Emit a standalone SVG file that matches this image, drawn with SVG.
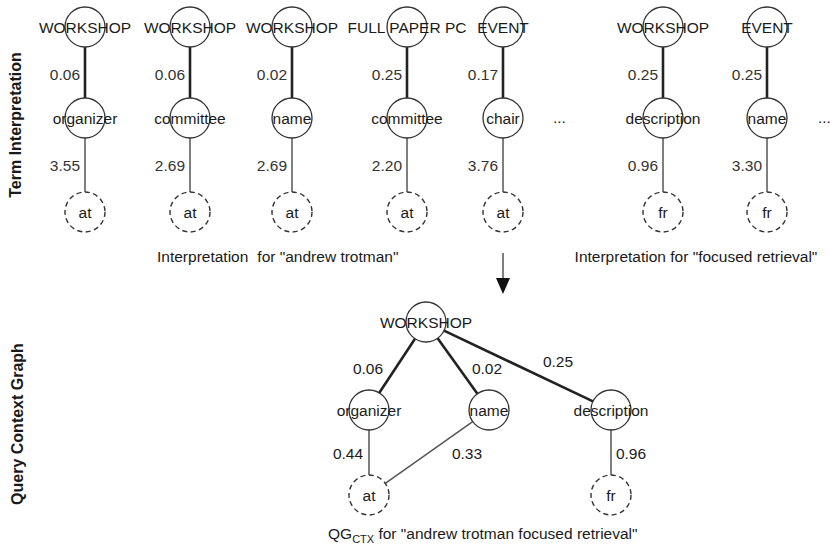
<svg xmlns="http://www.w3.org/2000/svg" width="830" height="545" viewBox="0 0 830 545">
<style>
text{font-family:"Liberation Sans",Arial,sans-serif;font-size:15.5px;fill:#1a1a1a}
.lbl{text-anchor:middle}
.num{text-anchor:end;fill:#333}
.side{font-weight:bold;font-size:16px;text-anchor:middle}
.c{fill:none;stroke:#333;stroke-width:1.3}
.d{fill:none;stroke:#333;stroke-width:1.4;stroke-dasharray:5 3.5}
.thick{stroke:#222;stroke-width:2.6;fill:none}
.thin{stroke:#555;stroke-width:1.5;fill:none}
</style>
<rect width="830" height="545" fill="#fff"/>
<text class="side" transform="translate(21,125) rotate(-90)">Term Interpretation</text>
<text class="side" transform="translate(23,424) rotate(-90)">Query Context Graph</text>

<g id="connectors">
  <line class="thick" x1="85" y1="47" x2="85" y2="98"/>
  <line class="thick" x1="190" y1="47" x2="190" y2="98"/>
  <line class="thick" x1="292" y1="47" x2="292" y2="98"/>
  <line class="thick" x1="407" y1="47" x2="407" y2="98"/>
  <line class="thick" x1="503" y1="47" x2="503" y2="98"/>
  <line class="thick" x1="663" y1="47" x2="663" y2="98"/>
  <line class="thick" x1="767" y1="47" x2="767" y2="98"/>
  <line class="thin" x1="85" y1="138" x2="85" y2="192"/>
  <line class="thin" x1="190" y1="138" x2="190" y2="192"/>
  <line class="thin" x1="292" y1="138" x2="292" y2="192"/>
  <line class="thin" x1="407" y1="138" x2="407" y2="192"/>
  <line class="thin" x1="503" y1="138" x2="503" y2="192"/>
  <line class="thin" x1="663" y1="138" x2="663" y2="192"/>
  <line class="thin" x1="767" y1="138" x2="767" y2="192"/>
  <line class="thin" x1="503" y1="253" x2="503" y2="279" stroke="#222"/>
  <polygon points="496,278 510,278 503,294" fill="#111"/>
  <line class="thick" x1="415" y1="338.7" x2="379" y2="393.3"/>
  <line class="thick" x1="437.6" y1="338.3" x2="477.4" y2="393.7"/>
  <line class="thick" x1="444" y1="330.6" x2="593" y2="401.4"/>
  <line class="thin" x1="472.7" y1="421.6" x2="385.3" y2="483.4"/>
  <line class="thin" x1="369" y1="430" x2="369" y2="475"/>
  <line class="thin" x1="611" y1="430" x2="611" y2="475"/>
  <text class="num" x="80" y="80">0.06</text>
  <text class="num" x="185" y="80">0.06</text>
  <text class="num" x="287" y="80">0.02</text>
  <text class="num" x="402" y="80">0.25</text>
  <text class="num" x="498" y="80">0.17</text>
  <text class="num" x="658" y="80">0.25</text>
  <text class="num" x="762" y="80">0.25</text>
  <text class="num" x="80" y="171">3.55</text>
  <text class="num" x="185" y="171">2.69</text>
  <text class="num" x="287" y="171">2.69</text>
  <text class="num" x="402" y="171">2.20</text>
  <text class="num" x="498" y="171">3.76</text>
  <text class="num" x="658" y="171">0.96</text>
  <text class="num" x="762" y="171">3.30</text>
  <text class="lbl" x="368" y="374" fill="#333">0.06</text>
  <text class="lbl" x="487" y="374" fill="#333">0.02</text>
  <text class="lbl" x="558" y="367" fill="#333">0.25</text>
  <text class="lbl" x="348" y="459" fill="#333">0.44</text>
  <text class="lbl" x="467" y="459" fill="#333">0.33</text>
  <text class="lbl" x="631" y="459" fill="#333">0.96</text>
</g>

<g id="n1-top"><circle class="c" cx="85" cy="27" r="20"/><text class="lbl" x="85" y="32.5">WORKSHOP</text></g>
<g id="n2-top"><circle class="c" cx="190" cy="27" r="20"/><text class="lbl" x="190" y="32.5">WORKSHOP</text></g>
<g id="n3-top"><circle class="c" cx="292" cy="27" r="20"/><text class="lbl" x="292" y="32.5">WORKSHOP</text></g>
<g id="n4-top"><circle class="c" cx="407" cy="27" r="20"/><text class="lbl" x="407" y="32.5">FULL PAPER PC</text></g>
<g id="n5-top"><circle class="c" cx="503" cy="27" r="20"/><text class="lbl" x="503" y="32.5">EVENT</text></g>
<g id="n6-top"><circle class="c" cx="663" cy="27" r="20"/><text class="lbl" x="663" y="32.5">WORKSHOP</text></g>
<g id="n7-top"><circle class="c" cx="767" cy="27" r="20"/><text class="lbl" x="767" y="32.5">EVENT</text></g>

<g id="n1-mid"><circle class="c" cx="85" cy="118" r="20"/><text class="lbl" x="85" y="123.5">organizer</text></g>
<g id="n2-mid"><circle class="c" cx="190" cy="118" r="20"/><text class="lbl" x="190" y="123.5">committee</text></g>
<g id="n3-mid"><circle class="c" cx="292" cy="118" r="20"/><text class="lbl" x="292" y="123.5">name</text></g>
<g id="n4-mid"><circle class="c" cx="407" cy="118" r="20"/><text class="lbl" x="407" y="123.5">committee</text></g>
<g id="n5-mid"><circle class="c" cx="503" cy="118" r="20"/><text class="lbl" x="503" y="123.5">chair</text></g>
<g id="n6-mid"><circle class="c" cx="663" cy="118" r="20"/><text class="lbl" x="663" y="123.5">description</text></g>
<g id="n7-mid"><circle class="c" cx="767" cy="118" r="20"/><text class="lbl" x="767" y="123.5">name</text></g>
<text x="553" y="123">...</text>
<text x="818" y="123">...</text>

<g id="n1-bot"><circle class="d" cx="85" cy="212" r="20"/><text class="lbl" x="85" y="217.5">at</text></g>
<g id="n2-bot"><circle class="d" cx="190" cy="212" r="20"/><text class="lbl" x="190" y="217.5">at</text></g>
<g id="n3-bot"><circle class="d" cx="292" cy="212" r="20"/><text class="lbl" x="292" y="217.5">at</text></g>
<g id="n4-bot"><circle class="d" cx="407" cy="212" r="20"/><text class="lbl" x="407" y="217.5">at</text></g>
<g id="n5-bot"><circle class="d" cx="503" cy="212" r="20"/><text class="lbl" x="503" y="217.5">at</text></g>
<g id="n6-bot"><circle class="d" cx="663" cy="212" r="20"/><text class="lbl" x="663" y="217.5">fr</text></g>
<g id="n7-bot"><circle class="d" cx="767" cy="212" r="20"/><text class="lbl" x="767" y="217.5">fr</text></g>

<text x="157" y="262">Interpretation<tspan dx="9">for "andrew trotman"</tspan></text>
<text class="lbl" x="696" y="262">Interpretation for "focused retrieval"</text>

<g id="q-workshop"><circle class="c" cx="426" cy="322" r="20"/><text class="lbl" x="426" y="327.5">WORKSHOP</text></g>
<g id="q-organizer"><circle class="c" cx="369" cy="410" r="20"/><text class="lbl" x="369" y="415.5">organizer</text></g>
<g id="q-name"><circle class="c" cx="489" cy="410" r="20"/><text class="lbl" x="489" y="415.5">name</text></g>
<g id="q-description"><circle class="c" cx="611" cy="410" r="20"/><text class="lbl" x="611" y="415.5">description</text></g>
<g id="q-at"><circle class="d" cx="369" cy="495" r="20"/><text class="lbl" x="369" y="500.5">at</text></g>
<g id="q-fr"><circle class="d" cx="611" cy="495" r="20"/><text class="lbl" x="611" y="500.5">fr</text></g>

<text x="328" y="539">QG<tspan font-size="11" dy="4">CTX</tspan><tspan dy="-4"> for "andrew trotman focused retrieval"</tspan></text>
</svg>
